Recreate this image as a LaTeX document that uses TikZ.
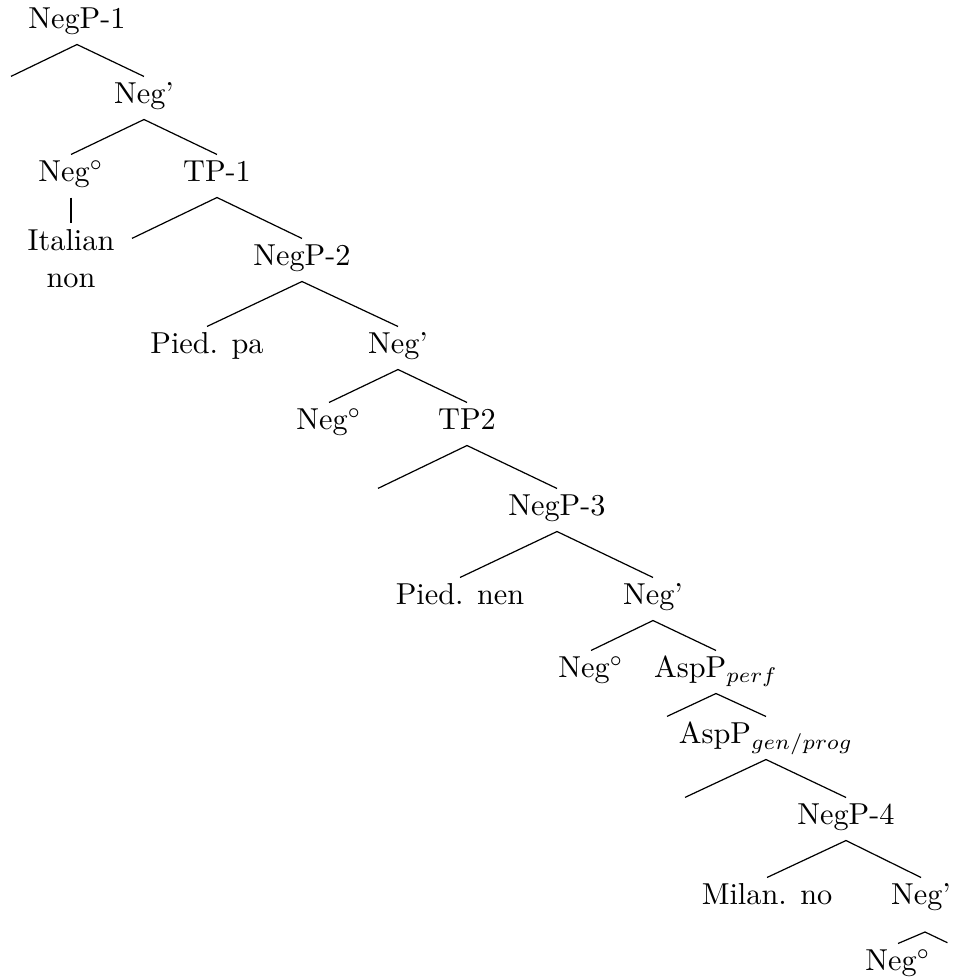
\documentclass[tikz,border=0pt]{standalone}
\usepackage{tikz}

\begin{document}
\begin{tikzpicture}[x=.33pt,y=-.33pt,
  cat/.style={inner xsep=1pt,inner ysep=2pt,text height=6.8pt,text depth=3pt},
  word/.style={inner sep=2pt,align=center,anchor=north},
  gap/.style={inner sep=0pt,minimum size=0pt}]
\useasboundingbox (0,0) rectangle (954,980);
% labelled nodes
\node[cat] (negp1) at (77,23) {NegP-1};
\node[cat] (negbar1) at (144,98) {Neg'};
\node[cat] (nego1) at (71,176) {Neg$^\circ$};
\node[cat] (tp1) at (217,176) {TP-1};
\node[word] (italian) at (71,223) {Italian\\non};
\node[cat] (negp2) at (302,260) {NegP-2};
\node[cat] (pied1) at (207,348) {Pied. pa};
\node[cat] (negbar2) at (398,348) {Neg'};
\node[cat] (nego2) at (329,424) {Neg$^\circ$};
\node[cat] (tp2) at (467,424) {TP2};
\node[cat] (negp3) at (557,510) {NegP-3};
\node[cat] (pied2) at (460,599) {Pied. nen};
\node[cat] (negbar3) at (653,599) {Neg'};
\node[cat] (nego3) at (591,672) {Neg$^\circ$};
\node[cat] (asp1) at (716,672) {AspP$_{perf}$};
\node[cat] (asp2) at (766,738) {AspP$_{gen/prog}$};
\node[cat] (negp4) at (846,819) {NegP-4};
\node[cat] (milan) at (767,899) {Milan. no};
\node[cat] (negbar4) at (921,899) {Neg'};
\node[cat] (nego4) at (898,965) {Neg$^\circ$};
% empty leaves
\node[gap] (e1) at (11,77) {};
\node[gap] (e2) at (132,239) {};
\node[gap] (e3) at (378,489) {};
\node[gap] (e4) at (667,717) {};
\node[gap] (e5) at (685,798) {};
\node[gap] (e6) at (948,943) {};
\coordinate (r4) at (925,932);
% branches
\foreach \a/\b in {negp1/e1,negp1/negbar1,negbar1/nego1,negbar1/tp1,
    nego1/italian,tp1/e2,tp1/negp2,negp2/pied1,negp2/negbar2,
    negbar2/nego2,negbar2/tp2,tp2/e3,tp2/negp3,negp3/pied2,negp3/negbar3,
    negbar3/nego3,negbar3/asp1,asp1/e4,asp1/asp2,asp2/e5,asp2/negp4,
    negp4/milan,negp4/negbar4}
  \draw (\a.south) -- (\b.north);
\draw (nego4.north) -- (r4) -- (e6);
\end{tikzpicture}
\end{document}
